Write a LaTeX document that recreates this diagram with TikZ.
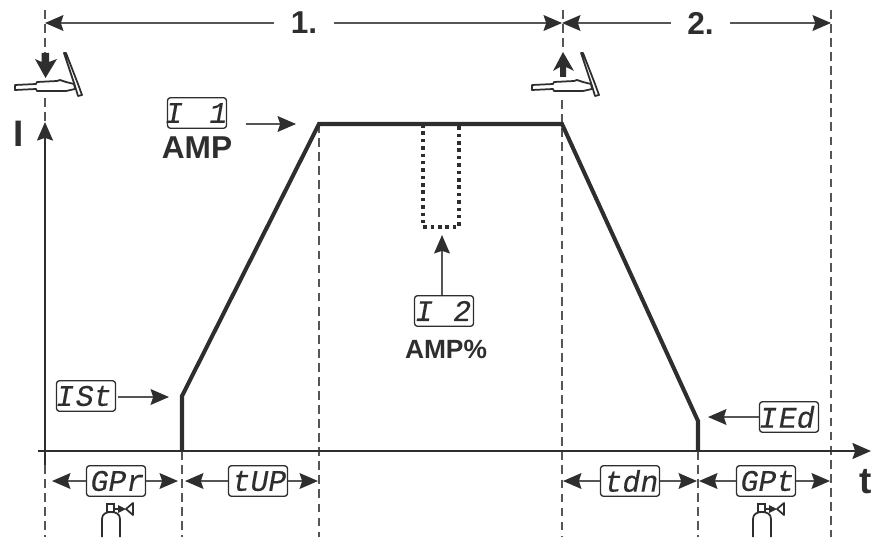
\documentclass[tikz,border=0pt]{standalone}
\usepackage{fontspec}
\setmainfont{Liberation Sans}
\newfontfamily\segfont[FakeSlant=0.18,FakeBold=0.25]{Liberation Mono}
\usetikzlibrary{arrows.meta}
\definecolor{inkdark}{HTML}{2E2E2E}
\definecolor{inkgrey}{HTML}{555555}
\tikzset{
  dispbox/.style={draw=inkdark,line width=0.75pt,rounded corners=1.5pt,fill=white,minimum width=33.5pt,minimum height=17.3pt,inner sep=0pt,font=\segfont\fontsize{17}{18}\selectfont,text=inkdark},
  biglabel/.style={font=\bfseries\fontsize{18}{18}\selectfont,text=inkdark,inner sep=0pt},
  guide/.style={inkgrey,line width=0.85pt,dash pattern=on 5pt off 3pt},
  pointer/.style={inkgrey,line width=0.9pt,-{Stealth[length=10.5pt,width=9pt,inset=1.5pt,color=inkdark]}},
  pics/torch/.style={code={
    \draw[inkdark,line width=1pt,fill=white,line join=round] (15,85) -- (36,84) -- (37,82) -- (57,81) -- (60,80) -- (66,82) -- (74,84) -- (75,89) -- (66,91) -- (37,91) -- (36,89) -- (15,90) -- cycle;
    \draw[inkdark,line width=1pt,fill=white,line join=round] (64,53) -- (66,53) -- (78,84) -- (82,95) -- (78,96) -- (75,86) -- cycle;
  }},
  pics/bottle/.style={code={
    \draw[inkdark,line width=1pt,fill=white] (102,537) -- (102,519) .. controls (102,514) and (106,512) .. (111,512) .. controls (116,512) and (120,514) .. (120,519) -- (120,537);
    \draw[inkdark,line width=1pt,fill=white] (107,512) rectangle (114,504);
    \draw[inkdark,line width=1.4pt] (114,509) -- (124,509);
    \fill[inkdark] (118,505) -- (126,509) -- (118,513) -- cycle;
    \draw[inkdark,line width=1pt,line join=round] (126,509) -- (133,503) -- (133,515) -- cycle;
  }},
}
\begin{document}
\begin{tikzpicture}[x=0.02cm,y=-0.02cm]
\useasboundingbox (0,0) rectangle (871,537);

\coordinate (dimL) at (45,23);
\coordinate (dimM) at (562,23);
\coordinate (dimR) at (831,23);
\coordinate (axisI) at (45,122);
\coordinate (axisIlow) at (45,465);
\coordinate (axisT) at (871,451);
\coordinate (axisTlow) at (38,451);

\draw[guide] (45,10) -- (45,53);
\draw[guide] (45,98) -- (45,122);
\draw[guide] (45,465) -- (45,537);
\draw[guide] (182,451) -- (182,537);
\draw[guide] (319,124) -- (319,537);
\draw[guide] (563,10) -- (563,52);
\draw[guide] (562,100) -- (562,537);
\draw[guide] (698,451) -- (698,537);
\draw[guide] (831,10) -- (831,537);

\node[biglabel,inner xsep=9.3pt] (one) at (304,23) {1.};
\node[biglabel,inner xsep=9.3pt] (two) at (700.5,23) {2.};
\draw[pointer] (one) -- (dimL);
\draw[pointer] (one) -- (dimM);
\draw[pointer] (two) -- (dimM);
\draw[pointer] (two) -- (dimR);

\pic at (0,0) {torch};
\pic at (517,0) {torch};
\fill[inkdark] (41.7,53) -- (49,53) -- (49,62) -- (57,59) -- (45.5,78) -- (35,59) -- (41.7,62) -- cycle;
\fill[inkdark] (563,52) -- (574,71) -- (566,67) -- (566,77) -- (560,77) -- (560,67) -- (553,71) -- cycle;

\draw[inkdark,line width=1.5pt,-{Stealth[length=10.5pt,width=9pt,inset=1.5pt]}] (axisIlow) -- (axisI);
\draw[inkdark,line width=1.5pt,-{Stealth[length=10.5pt,width=9pt,inset=1.5pt]}] (axisTlow) -- (axisT);
\node[biglabel,font=\bfseries\fontsize{21}{21}\selectfont] (labelI) at (19,134) {I};
\node[biglabel,font=\bfseries\fontsize{21}{21}\selectfont,anchor=west] (labelT) at (859,482) {t};

\draw[inkdark,line width=2.3pt,line join=miter] (182,451) -- (182,396) -- (319,124) -- (562,124) -- (698,421) -- (698,451);
\draw[inkdark,line width=2pt,dash pattern=on 2pt off 2.2pt] (423,124) -- (423,227) -- (459,227) -- (459,124);

\node[dispbox] (dispIone) at (197,113) {\hspace{-2.5pt}I\hspace{15pt}1\hspace{-1.5pt}};
\node[biglabel] (amp) at (197,148) {AMP};
\coordinate (peak) at (296,124);
\draw[pointer,shorten <=10.5pt] (dispIone.east |- peak) -- (peak);

\node[dispbox] (dispItwo) at (444,311) {\hspace{-2.5pt}I\hspace{11.5pt}2\hspace{1pt}};
\node[biglabel,font=\bfseries\fontsize{15}{15}\selectfont] (amppct) at (446,349) {AMP\%};
\coordinate (dip) at (442,235);
\draw[pointer] (dip |- dispItwo.north) -- (dip);

\node[dispbox] (dispIst) at (86,396) {\hspace{-4pt}I\hspace{1pt}St\hspace{-1pt}};
\coordinate (startI) at (169,397);
\draw[pointer,shorten <=1pt] (dispIst.east |- startI) -- (startI);

\node[dispbox] (dispIed) at (789,417) {\hspace{-4pt}I\hspace{1pt}Ed\hspace{-1pt}};
\coordinate (endI) at (708,417);
\draw[pointer] (dispIed) -- (endI);

\node[dispbox] (dispGpr) at (116,481) {GPr};
\node[dispbox] (dispTup) at (258,481) {tUP};
\node[dispbox] (dispTdn) at (630,481) {tdn};
\node[dispbox] (dispGpt) at (766,481) {GPt};

\coordinate (gprL) at (52,481);
\coordinate (gprR) at (178,481);
\coordinate (tupL) at (185,481);
\coordinate (tupR) at (318,481);
\coordinate (tdnL) at (563,481);
\coordinate (tdnR) at (697,481);
\coordinate (gptL) at (699,481);
\coordinate (gptR) at (830,481);
\draw[pointer] (dispGpr) -- (gprL);
\draw[pointer] (dispGpr) -- (gprR);
\draw[pointer] (dispTup) -- (tupL);
\draw[pointer] (dispTup) -- (tupR);
\draw[pointer] (dispTdn) -- (tdnL);
\draw[pointer] (dispTdn) -- (tdnR);
\draw[pointer] (dispGpt) -- (gptL);
\draw[pointer] (dispGpt) -- (gptR);

\pic at (0,0) {bottle};
\pic at (651,0) {bottle};
\end{tikzpicture}
\end{document}
